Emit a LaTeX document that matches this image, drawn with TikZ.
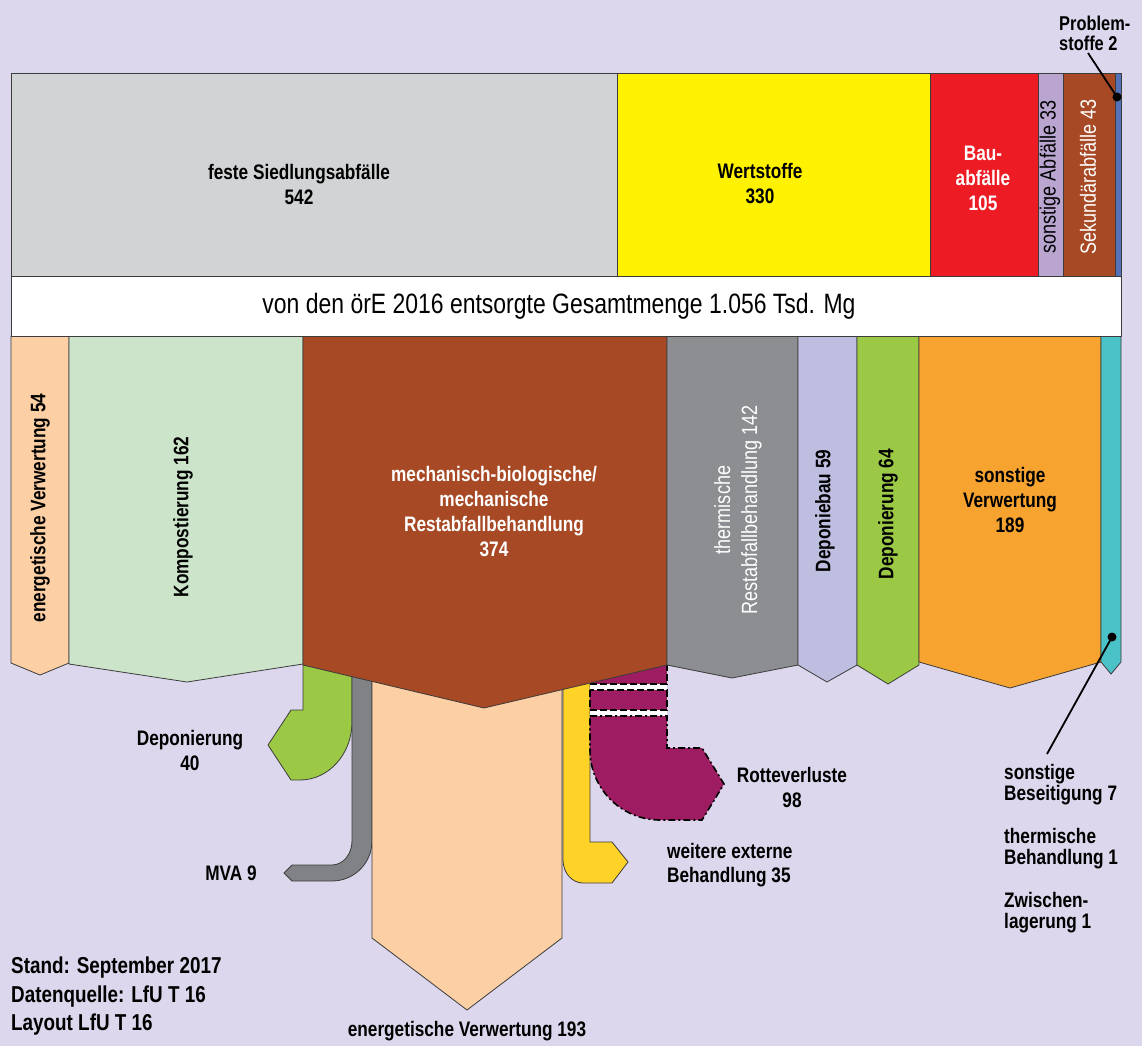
\documentclass[tikz,border=0pt]{standalone}
\usepackage{fontspec}
\setmainfont{Liberation Sans}[FakeStretch=0.82]
\usepackage{tikz}

\definecolor{hgrund}{RGB}{220,215,236}
\definecolor{rand}{RGB}{60,60,60}
\definecolor{hellgrau}{RGB}{209,211,212}
\definecolor{gelb}{RGB}{255,242,0}
\definecolor{rot}{RGB}{237,28,36}
\definecolor{flieder}{RGB}{185,165,207}
\definecolor{braun}{RGB}{166,73,36}
\definecolor{blau}{RGB}{84,114,184}
\definecolor{pfirsich}{RGB}{252,207,164}
\definecolor{mint}{RGB}{204,229,202}
\definecolor{grau}{RGB}{140,142,145}
\definecolor{dunkelgrau}{RGB}{128,130,133}
\definecolor{lavendel}{RGB}{190,190,224}
\definecolor{gruen}{RGB}{155,201,70}
\definecolor{orange}{RGB}{247,163,48}
\definecolor{tuerkis}{RGB}{75,193,200}
\definecolor{gold}{RGB}{255,210,40}
\definecolor{purpur}{RGB}{158,29,98}

\begin{document}
\begin{tikzpicture}[x=1pt,y=-1pt]

    % Stile:
    \tikzstyle{box}=[draw=rand, line width=0.8pt]
    \tikzstyle{fett}=[font=\fontsize{21}{25}\selectfont\bfseries, align=center, inner sep=0pt]
    \tikzstyle{duenn}=[font=\fontsize{22}{27}\selectfont, align=center, inner sep=0pt]
    \tikzstyle{seite}=[font=\fontsize{21}{21}\selectfont\bfseries, align=left, inner sep=0pt, anchor=west]
    \tikzstyle{strich}=[draw, line width=1.6pt, dash pattern=on 7pt off 3pt]
    \tikzstyle{zeiger}=[draw, line width=1.8pt]

    \newcommand{\kasten}[3]{\path[box,fill=#3] (#1,73) rectangle (#2,276);}
    \newcommand{\saeule}[6]{\path[box,fill=#6] (#1,336) -- (#2,336) -- (#2,#3) -- (#4,#5) -- (#1,#3) -- cycle;}

    % Hintergrund:
    \fill[hgrund] (0,0) rectangle (1142,1046);
    \useasboundingbox (0,0) rectangle (1142,1046);

    % Abzweige der MBA:
    \path[box,fill=gruen] (303,660) -- (303,710) -- (291,710) -- (268,745) -- (291,780) -- (300,780)
        .. controls (328.7,780) and (352,754) .. (352,722) -- (352,660) -- cycle;
    \path[box,fill=dunkelgrau] (352,660) -- (352,841) .. controls (352,854.2) and (343,865) .. (332,865)
        -- (292,865) -- (284,873) -- (292,881) -- (332,881)
        .. controls (354.1,881) and (372,863.1) .. (372,841) -- (372,660) -- cycle;
    \path[box,fill=pfirsich] (372,660) -- (372,938) -- (467,1010) -- (562,938) -- (562,660) -- cycle;
    \path[box,fill=gold] (563,660) -- (563,860) .. controls (563,872.7) and (572,883) .. (583,883)
        -- (612,883) -- (628,862) -- (612,842) -- (590,842) -- (590,660) -- cycle;

    % Rotteverluste:
    \fill[white] (590,684) rectangle (667,716);
    \fill[purpur] (590,660) rectangle (667,684);
    \path[strich] (590,684) -- (667,684) -- (667,660);
    \path[strich,fill=purpur] (590,690) rectangle (667,710);
    \path[strich,fill=purpur,dash pattern=on 7pt off 3pt on 2pt off 3pt] (590,716) -- (667,716) -- (667,748)
        -- (702,748) -- (724,784) -- (702,820) -- (660,820)
        .. controls (621.4,820) and (590,788.6) .. (590,750) -- cycle;

    % Saeulen unten:
    \saeule{11}{69}{663}{40}{675}{pfirsich}
    \saeule{69}{303}{664}{187}{682}{mint}
    \saeule{303}{667}{665}{484}{708}{braun}
    \saeule{667}{798}{665}{732}{678}{grau}
    \saeule{798}{857}{665}{827}{682}{lavendel}
    \saeule{857}{919}{665}{888}{684}{gruen}
    \saeule{919}{1101}{662}{1010}{688}{orange}
    \saeule{1101}{1121}{662}{1111}{674}{tuerkis}

    % Kaesten oben:
    \kasten{11}{617}{hellgrau}
    \kasten{617}{930}{gelb}
    \kasten{930}{1038}{rot}
    \kasten{1038}{1063}{flieder}
    \kasten{1063}{1115}{braun}
    \kasten{1115}{1121}{blau}
    \path[box,fill=white] (11,276) rectangle (1121,336);

    % Beschriftungen:
    \node (fsa) [fett] at (299,184) {feste Siedlungsabfälle\\542};
    \node (wst) [fett] at (760,184) {Wertstoffe\\330};
    \node (bau) [fett,text=white] at (983,178) {Bau-\\abfälle\\105};
    \node (sab) [duenn,rotate=90] at (1050,177) {sonstige Abfälle 33};
    \node (sek) [duenn,rotate=90,text=white] at (1088,177) {Sekundärabfälle 43};
    \node (prob) [font=\fontsize{20}{20}\selectfont\bfseries, align=left, inner sep=0pt, anchor=west] at (1059,33) {Problem-\\stoffe 2};
    \node (gesamt) [font=\fontsize{28}{30}\selectfont, inner sep=0pt] at (559,306) {von den örE 2016 entsorgte Gesamtmenge 1.056 Tsd. Mg};

    \node (ev54) [fett,rotate=90] at (40,508) {energetische Verwertung 54};
    \node (komp) [fett,rotate=90] at (183,517) {Kompostierung 162};
    \node (mba) [fett,text=white] at (494,512) {mechanisch-biologische/\\mechanische\\Restabfallbehandlung\\374};
    \node (trb) [duenn,rotate=90,text=white] at (738,510) {thermische\\Restabfallbehandlung 142};
    \node (dbau) [fett,rotate=90] at (825,511) {Deponiebau 59};
    \node (dep64) [fett,rotate=90] at (888,514) {Deponierung 64};
    \node (sverw) [fett] at (1010,500) {sonstige\\Verwertung\\189};

    \node (dep40) [fett] at (190,750) {Deponierung\\40};
    \node (mva) [fett] at (231,873) {MVA 9};
    \node (rotte) [fett] at (792,787) {Rotteverluste\\98};
    \node (wext) [seite,font=\fontsize{21}{24}\selectfont\bfseries] at (667,865) {weitere externe\\Behandlung 35};
    \node (ev193) [fett] at (467,1031) {energetische Verwertung 193};

    \node (sbes) [seite] at (1004,785) {sonstige\\Beseitigung 7};
    \node (tbeh) [seite] at (1004,848.5) {thermische\\Behandlung 1};
    \node (zwl) [seite] at (1004,913) {Zwischen-\\lagerung 1};

    \node (stand) [font=\fontsize{23}{28.5}\selectfont\bfseries, align=left, inner sep=0pt, anchor=west] at (11,996.5)
        {Stand: September 2017\\Datenquelle: LfU T 16\\Layout LfU T 16};

    % Zeiger:
    \coordinate (probPunkt) at (1117,97);
    \coordinate (probEnde) at (1088,53);
    \path[zeiger] (probEnde) -- (probPunkt);
    \fill (probPunkt) circle (4.5pt);
    \coordinate (besPunkt) at (1112,637);
    \coordinate (besEnde) at (1047,754);
    \path[zeiger] (besEnde) -- (besPunkt);
    \fill (besPunkt) circle (4.5pt);
\end{tikzpicture}
\end{document}
